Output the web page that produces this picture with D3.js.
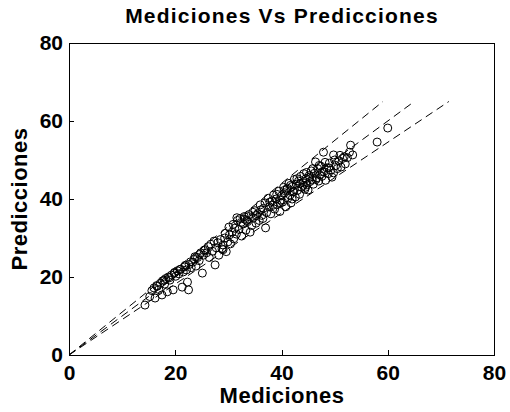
<!DOCTYPE html>
<html>
<head>
<meta charset="utf-8">
<script src="https://cdn.jsdelivr.net/npm/d3@7"></script>
<style>
  html, body { margin: 0; padding: 0; background: #fff; }
  svg { display: block; }
  text { font-family: "Liberation Sans", Arial, sans-serif; font-weight: bold; fill: #000; }
</style>
</head>
<body>
<svg id="chart" width="510" height="412"></svg>
<script>
const title = "Mediciones Vs Predicciones";
const xLabel = "Mediciones";
const yLabel = "Predicciones";
const xTicks = [0, 20, 40, 60, 80];
const yTicks = [0, 20, 40, 60, 80];

// measured values (x)
const mediciones = [
  14.3,15.2,15.6,16.0,16.2,16.5,16.9,17.2,17.5,17.6,18.0,18.2,18.5,18.7,19.0,19.3,19.6,19.8,20.1,20.4,
  20.7,21.0,21.3,21.5,21.8,22.1,22.3,22.5,22.6,23.0,23.3,23.6,23.9,24.2,24.5,24.8,25.1,25.3,25.6,25.9,
  26.2,26.4,26.7,27.0,27.3,27.5,27.7,28.0,28.2,28.5,28.8,29.0,29.3,29.6,29.9,30.2,30.4,30.7,31.0,31.2,
  31.5,31.7,32.0,32.2,32.5,32.8,33.0,33.3,33.6,33.9,34.1,34.4,34.7,35.0,35.2,35.5,35.8,36.0,36.3,36.6,
  36.9,37.0,37.2,37.5,37.7,38.0,38.2,38.5,38.7,39.0,39.2,39.5,39.7,40.0,40.2,40.4,40.6,40.8,41.0,41.2,
  41.4,41.6,41.8,42.0,42.2,42.4,42.6,42.8,43.0,43.2,43.4,43.6,43.8,44.0,44.2,44.4,44.6,44.8,45.0,45.2,
  45.4,45.6,45.8,46.0,46.2,46.4,46.6,46.8,47.0,47.2,47.4,47.6,47.9,48.0,48.3,48.5,48.8,49.0,49.3,49.5,
  49.8,49.8,50.2,50.5,50.8,51.2,51.5,52.0,52.4,53.0,53.4,52.8,58.0,60.0,
  39.8,33.5,29.0,44.5,42.0,36.5,
  16.6,17.9,18.9,19.9,20.9,21.9,22.9,23.7,24.6,25.4,29.4,30.1,30.9,31.6,32.4,33.1,33.8,34.6,35.3,36.1,
  37.8,38.4,39.1,39.8,40.5,41.1,41.7,42.3,42.9,43.5,44.1,44.7,45.3,45.9,46.5,47.1,47.7,48.2,48.9,50.0,
  51.0,51.8
];
// predicted values (y)
const predicciones = [
  12.8,15.0,16.5,17.2,14.6,17.8,16.8,18.4,15.4,19.0,18.2,19.6,16.2,20.0,19.2,20.5,16.7,21.0,20.2,21.6,
  20.8,22.0,17.4,21.3,22.6,21.8,18.7,16.7,23.2,22.4,23.8,24.5,22.8,25.0,24.2,26.2,21.0,25.6,27.0,26.2,
  27.8,25.0,28.4,26.6,29.2,23.1,27.5,28.8,25.6,29.6,27.2,28.2,30.0,26.5,29.0,30.8,28.5,31.5,29.8,32.5,
  31.0,34.5,32.2,35.0,30.5,33.6,35.5,32.0,34.2,36.0,31.5,33.2,35.2,37.0,33.8,36.2,34.5,38.5,35.8,37.6,
  39.0,32.6,36.5,40.2,38.0,36.2,39.5,41.0,37.4,40.0,38.6,42.0,36.8,40.8,39.2,43.0,41.6,38.0,42.5,40.2,
  44.0,41.0,39.0,43.2,41.8,45.0,40.5,43.8,42.2,44.6,41.2,45.8,43.0,44.2,46.5,42.5,45.2,43.6,42.3,46.0,
  44.5,47.2,45.0,43.8,46.6,49.5,45.4,47.8,44.6,46.2,48.4,45.8,52.0,47.0,44.8,48.0,46.5,49.2,47.4,45.6,
  51.3,46.7,48.6,47.8,49.8,48.2,50.4,49.0,50.6,53.8,51.3,52.0,54.6,58.2,
  39.7,34.5,27.0,43.0,40.0,35.0,
  17.6,19.2,19.8,21.2,21.9,23.0,23.9,25.2,25.8,26.8,31.2,32.8,33.5,35.2,34.0,34.8,35.5,36.6,35.8,37.2,
  39.2,38.4,41.2,39.0,42.2,42.8,43.5,42.0,45.2,44.0,43.5,46.8,45.6,47.8,45.0,48.6,47.0,49.4,48.0,50.0,
  51.2,50.8
];
// reference lines: slope factors, each drawn from 0 up to prediction 65
const refSlopes = [1.1, 1.0, 1 / 1.1];
const refTop = 65;

const svg = d3.select("#chart");
const margin = { left: 69, right: 16, top: 43, bottom: 57 };
const W = 510, H = 412;

const x = d3.scaleLinear().domain([0, 80]).range([margin.left, W - margin.right]);
const y = d3.scaleLinear().domain([0, 80]).range([H - margin.bottom, margin.top]);

// box
svg.append("rect")
  .attr("x", x(0)).attr("y", y(80))
  .attr("width", x(80) - x(0)).attr("height", y(0) - y(80))
  .attr("fill", "#fff").attr("stroke", "#000").attr("stroke-width", 1)
  .attr("shape-rendering", "crispEdges");

// axes with inward ticks
const xAxis = d3.axisBottom(x).tickValues(xTicks).tickSize(-5).tickPadding(10).tickFormat(d3.format("d"));
const yAxis = d3.axisLeft(y).tickValues(yTicks).tickSize(-5).tickPadding(6).tickFormat(d3.format("d"));

const gx = svg.append("g").attr("transform", `translate(0,${y(0)})`).call(xAxis);
const gy = svg.append("g").attr("transform", `translate(${x(0)},0)`).call(yAxis);
[gx, gy].forEach(g => {
  g.select(".domain").attr("stroke", "#000").attr("shape-rendering", "crispEdges");
  g.selectAll(".tick line").attr("stroke", "#000").attr("shape-rendering", "crispEdges");
  g.selectAll(".tick text")
    .style("font-family", '"Liberation Sans", Arial, sans-serif')
    .style("font-weight", "bold").style("font-size", "21px").attr("fill", "#000");
});
gx.selectAll(".tick text").attr("dy", "0.71em");

// dashed reference lines
refSlopes.forEach(s => {
  const xEnd = refTop / s;
  svg.append("line")
    .attr("x1", x(0)).attr("y1", y(0))
    .attr("x2", x(xEnd)).attr("y2", y(refTop))
    .attr("stroke", "#000").attr("stroke-width", 1)
    .attr("stroke-dasharray", "8,5");
});

// points
const pts = mediciones.map((m, i) => [m, predicciones[i]]);
svg.append("g").selectAll("circle").data(pts).join("circle")
  .attr("cx", d => x(d[0])).attr("cy", d => y(d[1]))
  .attr("r", 4)
  .attr("fill", "none").attr("stroke", "#000").attr("stroke-width", 1);

// title & labels
svg.append("text").attr("x", 282).attr("y", 23).attr("text-anchor", "middle")
  .style("font-size", "21px").style("letter-spacing", "1.2px").text(title);
svg.append("text").attr("x", 282).attr("y", 403).attr("text-anchor", "middle")
  .style("font-size", "22px").style("letter-spacing", "0.5px").text(xLabel);
svg.append("text").attr("transform", `translate(27,${(y(0) + y(80)) / 2}) rotate(-90)`)
  .attr("text-anchor", "middle").style("font-size", "22px").style("letter-spacing", "0.5px").text(yLabel);
</script>
</body>
</html>
